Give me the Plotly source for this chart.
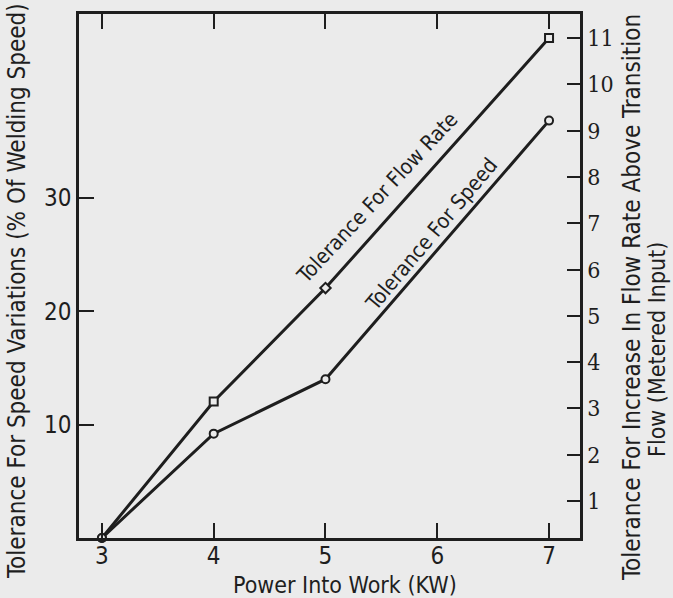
import plotly.graph_objects as go

# ---- data ----
power_kw = [3, 4, 5, 7]
speed_tolerance_pct = [0, 9.2, 14.0, 36.8]      # left axis (% of welding speed)
flow_tolerance = [0.2, 3.15, 5.6, 11.0]         # right axis (flow above transition)

x_ticks = [3, 4, 5, 6, 7]
left_ticks = [10, 20, 30]
right_ticks = list(range(1, 12))

BG = "#ebebeb"
INK = "#1e1e1e"
SANS = "DejaVu Sans Condensed, Liberation Sans Narrow, Roboto, sans-serif"
SERIF = "DejaVu Serif Condensed, Liberation Serif, serif"

fig = go.Figure()

fig.add_trace(go.Scatter(
    x=power_kw, y=speed_tolerance_pct, mode="lines+markers",
    line=dict(color=INK, width=3),
    marker=dict(symbol="circle", size=8, color=BG, line=dict(color=INK, width=2)),
    name="Tolerance For Speed", showlegend=False, yaxis="y", cliponaxis=False,
))
fig.add_trace(go.Scatter(
    x=power_kw, y=flow_tolerance, mode="lines+markers",
    line=dict(color=INK, width=3),
    marker=dict(symbol=["circle", "square", "diamond", "square"], size=8, color=BG,
                line=dict(color=INK, width=2)),
    name="Tolerance For Flow Rate", showlegend=False, yaxis="y2", cliponaxis=False,
))

W, H = 673, 598
L, R, T, B = 79, 93, 14, 60
pw, ph = W - L - R, H - T - B

def px(xp):
    return (xp - L) / pw

def py(yp):
    return (H - B - yp) / ph

fig.update_layout(
    width=W, height=H,
    margin=dict(l=L, r=R, t=T, b=B),
    paper_bgcolor=BG, plot_bgcolor=BG,
    font=dict(family=SANS, color=INK, size=22),
    xaxis=dict(
        range=[2.795, 7.277], tickvals=x_ticks, ticktext=[str(v) for v in x_ticks],
        ticks="inside", ticklen=15, tickwidth=2, tickcolor=INK,
        showline=True, linewidth=2.5, linecolor=INK, mirror="ticks",
        showgrid=False, zeroline=False, ticklabelstandoff=-6,
        tickfont=dict(family=SANS, size=24, color=INK),
    ),
    yaxis=dict(
        range=[0, 46.2], tickvals=left_ticks, ticktext=[str(v) for v in left_ticks],
        ticks="inside", ticklen=15, tickwidth=2, tickcolor=INK,
        showline=True, linewidth=2.5, linecolor=INK,
        showgrid=False, zeroline=False,
        tickfont=dict(family=SANS, size=24, color=INK),
    ),
    yaxis2=dict(
        range=[0.2, 11.52], tickvals=right_ticks, ticktext=[str(v) for v in right_ticks],
        overlaying="y", side="right",
        ticks="inside", ticklen=13, tickwidth=2, tickcolor=INK,
        showline=True, linewidth=2.5, linecolor=INK,
        showgrid=False, zeroline=False,
        tickfont=dict(family=SERIF, size=23, color=INK),
    ),
)

annotations = [
    dict(text="Tolerance For Speed Variations (% Of Welding Speed)",
         x=px(17), y=py(291), textangle=-90, font=dict(size=24)),
    dict(text="Tolerance For Increase In Flow Rate Above Transition",
         x=px(632), y=py(298), textangle=-90, font=dict(size=24)),
    dict(text="Flow (Metered Input)",
         x=px(657), y=py(350), textangle=-90, font=dict(size=23)),
    dict(text="Power Into Work (KW)", x=px(345), y=py(585), font=dict(size=23)),
    dict(text="Tolerance For Flow Rate", x=px(377), y=py(198), textangle=-47,
         font=dict(size=21)),
    dict(text="Tolerance For Speed", x=px(431), y=py(235), textangle=-50,
         font=dict(size=21)),
]
for a in annotations:
    a.update(xref="paper", yref="paper", showarrow=False,
             xanchor="center", yanchor="middle")
fig.update_layout(annotations=annotations)

fig.write_html(
    "out.html",
    config={"displayModeBar": False},
    post_script="document.body.style.margin='0px';document.body.style.background='%s';" % BG,
)
